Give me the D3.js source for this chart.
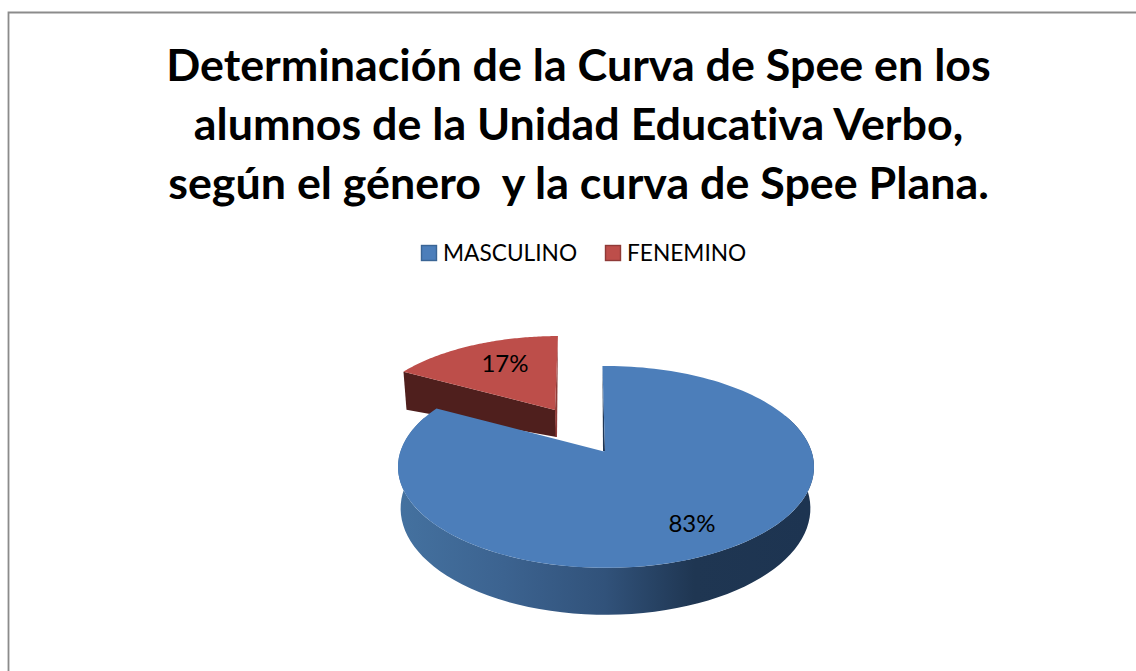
<!DOCTYPE html>
<html><head><meta charset="utf-8">
<script src="https://cdn.jsdelivr.net/npm/d3@7/dist/d3.min.js"></script>
<style>html,body{margin:0;padding:0;background:#fff;overflow:hidden}svg{display:block}text{font-family:Lato,"Open Sans",sans-serif;font-variant-ligatures:none}</style>
</head><body><svg id="c" width="1136" height="671"></svg>
<script>
const categories = ["MASCULINO","FENEMINO"];
const values = [83,17];
const labels = ["83%","17%"];
const titleLines = ["Determinación de la Curva de Spee en los","alumnos de la Unidad Educativa Verbo,","según el género  y la curva de Spee Plana."];
const topColors = ["#4c7eba","#bd4e4a"];
const legendEdge = ["#3a6595","#8f3a37"];

const svg = d3.select("#c");
const defs = svg.append("defs");
svg.append("path").attr("d","M8.5,671V12.5H1136")
  .attr("fill","none").attr("stroke","#8b8b8b").attr("stroke-width",1.8);

svg.append("g").selectAll("text").data(titleLines).join("text")
  .attr("x",578.5).attr("y",(d,i)=>81+i*59).attr("text-anchor","middle")
  .attr("font-size",44.8).attr("font-weight",700).attr("fill","#000").style("white-space","pre").text(d=>d);

// legend
const lg = svg.append("g");
[[421,443],[605,627]].forEach((p,i)=>{
  lg.append("rect").attr("x",p[0]+.5).attr("y",245.5).attr("width",15).attr("height",15)
    .attr("fill",topColors[i]).attr("stroke",legendEdge[i]).attr("stroke-width",1.4);
  lg.append("text").attr("x",p[1]).attr("y",261).attr("font-size",22.7).attr("fill","#000").text(categories[i]);
});

// pie angles from d3.pie, projected in perspective
const arcs = d3.pie().sort(null).value(d=>d)(values);
const k = 0.158;
function proj(t,o){
  const r=t+(o.rot||0), u=Math.sin(r), v=-Math.cos(r), w=1-k*v;
  const Y=o.sy*98.4*v/w;
  return [o.x+o.sx*205.4*u/w+(o.shear||0)*Y, o.y+Y];
}
function pts(a,b,o,n=80){return d3.range(n+1).map(i=>proj(a+(b-a)*i/n,o));}
const line = d3.line();

const blueTop={x:606,y:451,sx:1,sy:1,rot:-.02}, blueBot={x:605.5,y:491.6,sx:.985,sy:1.054,rot:-.02};
const redTop={x:555,y:410,sx:.915,sy:.87,shear:-.04};
const A=arcs[0], B=arcs[1];

// exploded slice: wall, then top
const rA=pts(B.startAngle,B.endAngle,redTop);
const apexR=[redTop.x,redTop.y], corner=rA[0];
svg.append("path").attr("d",line([corner,apexR,[556.5,437],[corner[0]+3,corner[1]+38]])+"Z").attr("fill","#4f1f1d");
svg.append("path").attr("d",line([rA[rA.length-1],[557,437],[555.5,437],apexR])+"Z").attr("fill","#8e3b38");
svg.append("path").attr("d",line([apexR,...rA])+"Z").attr("fill",topColors[1]);

// main slice side
const g=defs.append("linearGradient").attr("id","side").attr("gradientUnits","userSpaceOnUse")
  .attr("x1",402).attr("x2",808).attr("y1",0).attr("y2",0);
[[0,"#44719f"],[.25,"#3c6390"],[.5,"#31527a"],[.72,"#1f3652"],[1,"#1d3451"]].forEach(s=>g.append("stop").attr("offset",s[0]).attr("stop-color",s[1]));
const a0=1.2, a1=5.1;
svg.append("path").attr("d",line([...pts(a0,a1,blueTop),...pts(a1,a0,blueBot)])+"Z").attr("fill","url(#side)");
// cut wall sliver at the start of the slice
const s0=proj(A.startAngle,blueTop);
svg.append("path").attr("d",line([s0,[605,451],[603,451]])+"Z").attr("fill","#1f3655");
svg.append("path").attr("d",line([[603,451.3],[605,451],...pts(A.startAngle,A.endAngle,blueTop,160)])+"Z").attr("fill",topColors[0]);

// labels
svg.append("g").selectAll("text").data([[692,532],[505,372]]).join("text")
  .attr("x",d=>d[0]).attr("y",d=>d[1]).attr("text-anchor","middle").attr("font-size",24).attr("fill","#000")
  .text((d,i)=>labels[i]);
</script></body></html>
